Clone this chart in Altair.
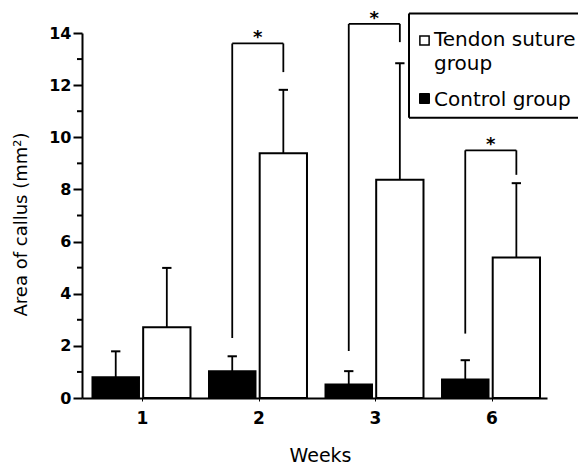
import altair as alt
import pandas as pd

# ---- data ----
weeks = ["1", "2", "3", "6"]
groups = ["Control group", "Tendon suture group"]
control_mean = [0.80, 1.03, 0.52, 0.71]
control_sd = [0.99, 0.57, 0.51, 0.74]
suture_mean = [2.71, 9.39, 8.37, 5.39]
suture_sd = [2.28, 2.43, 4.47, 2.85]
sig_weeks = ["2", "3", "6"]
sig_left_low = [2.3, 1.8, 2.47]
sig_top = [13.6, 14.35, 9.5]
sig_right_low = [12.5, 13.65, 8.56]
y_ticks = [0, 2, 4, 6, 8, 10, 12, 14]
y_minor = [1, 3, 5, 7, 9, 11, 13]

# ---- layout constants (style) ----
BAR_SPAN = {"Control group": (-0.425, -0.026), "Tendon suture group": (0.010, 0.416)}
CAP = 0.04
FONT = "DejaVu Sans"

rows = []
for i, w in enumerate(weeks):
    for g, m, s in ((groups[0], control_mean[i], control_sd[i]),
                    (groups[1], suture_mean[i], suture_sd[i])):
        a, b = BAR_SPAN[g]
        c = i + (a + b) / 2
        rows.append(dict(week=w, group=g, x0=i + a, x1=i + b, xc=c,
                         cl=c - CAP, cr=c + CAP, base=0.0, mean=m, top=m + s))
bars = pd.DataFrame(rows)

brows = []
for w, lo, tp, rlo in zip(sig_weeks, sig_left_low, sig_top, sig_right_low):
    i = weeks.index(w)
    xl = i + sum(BAR_SPAN[groups[0]]) / 2
    xr = i + sum(BAR_SPAN[groups[1]]) / 2
    brows.append(dict(week=w, xl=xl, xr=xr, xm=(xl + xr) / 2, lo=lo, top=tp, rlo=rlo))
br = pd.DataFrame(brows)

xscale = alt.Scale(domain=[-0.515, 3.476], nice=False, zero=False)
yscale = alt.Scale(domain=[0, 14], nice=False, zero=True)
label_expr = "[" + ",".join("'%s'" % w for w in weeks) + "][datum.value]"

x_axis = alt.Axis(values=list(range(len(weeks))), labelExpr=label_expr, title="Weeks",
                  tickSize=3, tickWidth=1, labelPadding=17, labelBaseline="middle",
                  titleX=238, titleY=63, titleBaseline="alphabetic")
y_axis = alt.Axis(values=y_ticks, title="Area of callus (mm²)", tickSize=9,
                  labelPadding=2,
                  titleAngle=270, titleBaseline="alphabetic", titleX=-56, titleY=191)


def X(f):
    return alt.X(f, scale=xscale, axis=x_axis)


def Y(f):
    return alt.Y(f, scale=yscale, axis=y_axis)


fill_scale = alt.Scale(domain=groups, range=["black", "white"])

bar_layer = alt.Chart(bars).mark_bar(stroke="black", strokeWidth=2).encode(
    x=X("x0:Q"), x2="x1:Q",
    y=Y("base:Q"), y2="mean:Q",
    fill=alt.Fill("group:N", scale=fill_scale, legend=None),
)
err_line = alt.Chart(bars).mark_rule(color="black", strokeWidth=1.8).encode(
    x=X("xc:Q"), y=Y("mean:Q"), y2="top:Q",
)
err_cap = alt.Chart(bars).mark_rule(color="black", strokeWidth=2).encode(
    x=X("cl:Q"), x2="cr:Q", y=Y("top:Q"),
)
minor = alt.Chart(pd.DataFrame({"v": y_minor})).mark_rule(color="black", strokeWidth=2).encode(
    x=alt.value(-5), x2=alt.value(0), y=Y("v:Q"),
)
b_left = alt.Chart(br).mark_rule(color="black", strokeWidth=1.8).encode(
    x=X("xl:Q"), y=Y("lo:Q"), y2="top:Q",
)
b_top = alt.Chart(br).mark_rule(color="black", strokeWidth=1.8).encode(
    x=X("xl:Q"), x2="xr:Q", y=Y("top:Q"),
)
b_right = alt.Chart(br).mark_rule(color="black", strokeWidth=1.8).encode(
    x=X("xr:Q"), y=Y("rlo:Q"), y2="top:Q",
)
stars = alt.Chart(br).mark_text(text="*", font=FONT, fontSize=18, fontWeight="bold",
                                baseline="alphabetic", dy=0, color="black").encode(
    x=X("xm:Q"), y=Y("top:Q"),
)

# ---- manual legend ----
one = pd.DataFrame({"k": [0]})
LX0, LX1, LY0, LY1 = 327, 500, -19.6, 84.7
leg_top = alt.Chart(one).mark_rule(color="black", strokeWidth=2).encode(
    x=alt.value(LX0), x2=alt.value(LX1), y=alt.value(LY0))
leg_bot = alt.Chart(one).mark_rule(color="black", strokeWidth=2).encode(
    x=alt.value(LX0), x2=alt.value(LX1), y=alt.value(LY1))
leg_left = alt.Chart(one).mark_rule(color="black", strokeWidth=2).encode(
    x=alt.value(LX0), y=alt.value(LY0), y2=alt.value(LY1))
sq_open = alt.Chart(one).mark_square(size=85, fill="white", stroke="black", strokeWidth=1.5,
                                     opacity=1).encode(x=alt.value(342.5), y=alt.value(7.5))
sq_fill = alt.Chart(one).mark_square(size=100, fill="black", stroke="black", strokeWidth=1,
                                     opacity=1).encode(x=alt.value(342.5), y=alt.value(65.5))
leg_txt1 = alt.Chart(one).mark_text(text="Tendon suture\ngroup", lineBreak="\n", lineHeight=23.5,
                                    align="left", baseline="alphabetic", font=FONT, fontSize=20,
                                    color="black").encode(x=alt.value(352), y=alt.value(13.2))
leg_txt2 = alt.Chart(one).mark_text(text="Control group", align="left", baseline="alphabetic",
                                    font=FONT, fontSize=20, color="black").encode(
    x=alt.value(352), y=alt.value(73.2))

chart = alt.layer(
    bar_layer, err_line, err_cap, minor, b_left, b_top, b_right, stars,
    leg_top, leg_bot, leg_left, sq_open, sq_fill, leg_txt1, leg_txt2,
).properties(
    width=465, height=365,
    autosize=alt.AutoSizeParams(type="none"),
    padding={"left": 74, "top": 25, "right": 31, "bottom": 67},
).configure_view(stroke=None).configure_axis(
    grid=False, domainColor="black", domainWidth=2, tickColor="black", tickWidth=2,
    labelColor="black", titleColor="black", labelFont=FONT, titleFont=FONT,
    labelFontWeight="bold", titleFontWeight="normal",
).configure_axisX(
    labelFontSize=17, titleFontSize=19,
).configure_axisY(
    labelFontSize=16, titleFontSize=18,
)

chart.save("out.html", embed_options={"renderer": "svg", "actions": False})
